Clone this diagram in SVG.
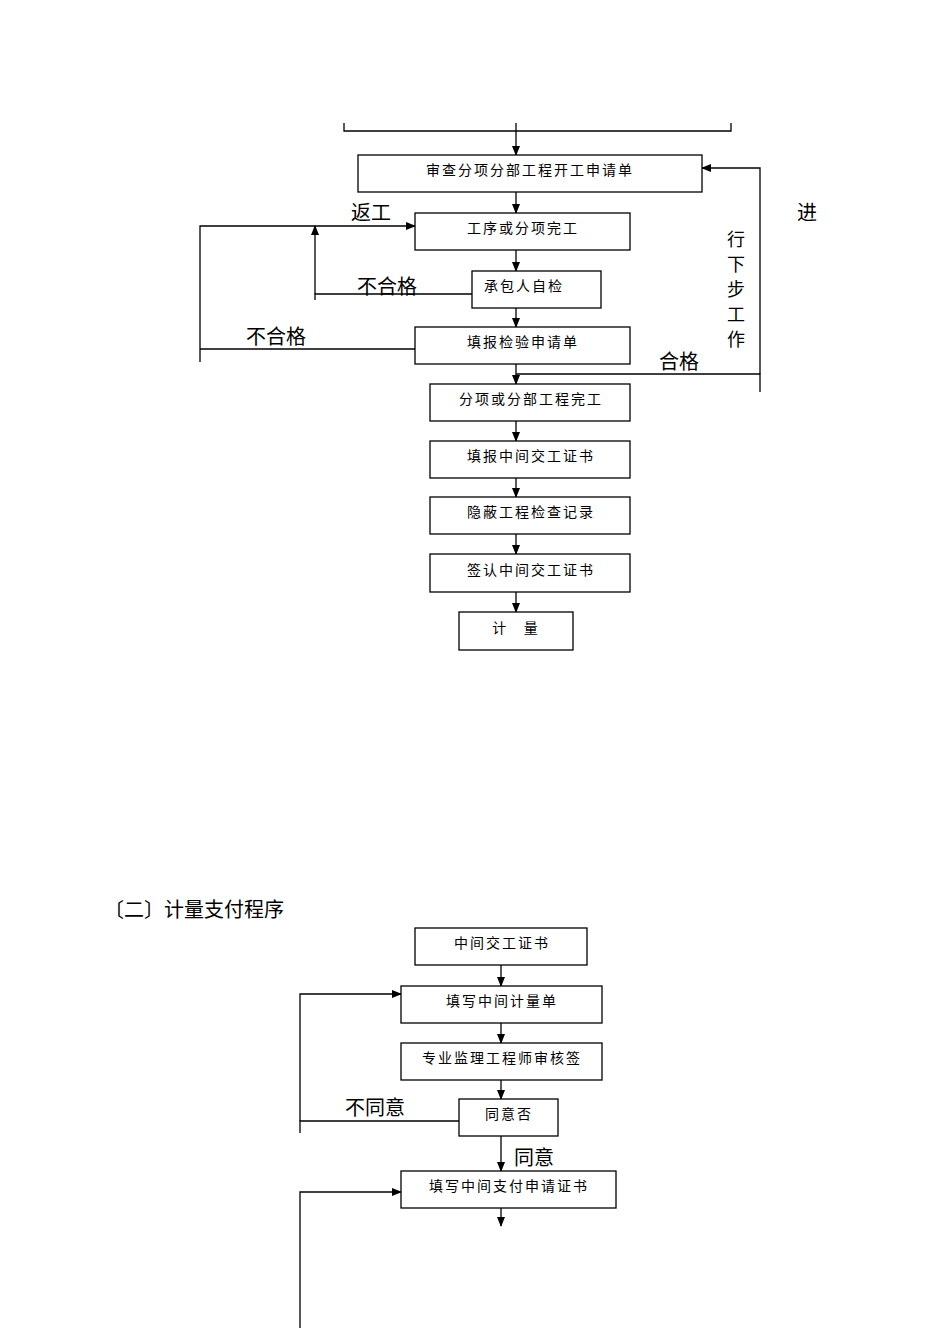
<svg xmlns="http://www.w3.org/2000/svg" width="950" height="1344" viewBox="0 0 950 1344">
<defs><marker id="a" markerWidth="10" markerHeight="10" refX="9" refY="5" orient="auto" markerUnits="userSpaceOnUse"><path d="M0,1 L10,5 L0,9 z" fill="#000"/></marker></defs>
<style>
rect{fill:#fff;stroke:#000;stroke-width:1.3}
line,polyline{stroke:#000;stroke-width:1.3;fill:none}
.t{font-family:"Noto Sans CJK SC",sans-serif;font-size:14px;text-anchor:middle;letter-spacing:2px}
.l{font-family:"Noto Sans CJK SC",sans-serif;font-size:20px}
.v{font-family:"Noto Sans CJK SC",sans-serif;font-size:18px}
</style>
<rect width="950" height="1344" style="fill:#fff;stroke:none"/>
<g id="connectors">
<polyline points="344,123 344,131 731,131 731,123"/>
<line x1="516" y1="123" x2="516" y2="155" marker-end="url(#a)"/>
<line x1="516" y1="192" x2="516" y2="213" marker-end="url(#a)"/>
<line x1="516" y1="250" x2="516" y2="271" marker-end="url(#a)"/>
<line x1="516" y1="308" x2="516" y2="327" marker-end="url(#a)"/>
<line x1="516" y1="364" x2="516" y2="384" marker-end="url(#a)"/>
<line x1="516" y1="421" x2="516" y2="441" marker-end="url(#a)"/>
<line x1="516" y1="478" x2="516" y2="497" marker-end="url(#a)"/>
<line x1="516" y1="534" x2="516" y2="554" marker-end="url(#a)"/>
<line x1="516" y1="592" x2="516" y2="612" marker-end="url(#a)"/>
<polyline points="200,362 200,226 415,226" marker-end="url(#a)"/>
<polyline points="472,294 315,294 315,300"/>
<line x1="315" y1="294" x2="315" y2="226" marker-end="url(#a)"/>
<line x1="415" y1="349" x2="200" y2="349"/>
<polyline points="516,374 760,374 760,392"/>
<polyline points="760,374 760,168 702,168" marker-end="url(#a)"/>
<line x1="501" y1="965" x2="501" y2="986" marker-end="url(#a)"/>
<line x1="501" y1="1023" x2="501" y2="1043" marker-end="url(#a)"/>
<line x1="501" y1="1080" x2="501" y2="1099" marker-end="url(#a)"/>
<line x1="501" y1="1136" x2="501" y2="1171" marker-end="url(#a)"/>
<line x1="501" y1="1208" x2="501" y2="1226" marker-end="url(#a)"/>
<polyline points="459,1121 300,1121 300,1133"/>
<polyline points="300,1121 300,994 401,994" marker-end="url(#a)"/>
<polyline points="300,1328 300,1192 401,1192" marker-end="url(#a)"/>
</g>
<g id="n1"><rect x="358" y="155" width="344" height="37"/><text class="t" x="530" y="175">审查分项分部工程开工申请单</text></g>
<g id="n2"><rect x="415" y="213" width="215" height="37"/><text class="t" x="523" y="233">工序或分项完工</text></g>
<g id="n3"><rect x="472" y="271" width="129" height="37"/><text class="t" x="524" y="291">承包人自检</text></g>
<g id="n4"><rect x="415" y="327" width="215" height="37"/><text class="t" x="523" y="347">填报检验申请单</text></g>
<g id="n5"><rect x="430" y="384" width="200" height="37"/><text class="t" x="531" y="404">分项或分部工程完工</text></g>
<g id="n6"><rect x="430" y="441" width="200" height="37"/><text class="t" x="531" y="461">填报中间交工证书</text></g>
<g id="n7"><rect x="430" y="497" width="200" height="37"/><text class="t" x="531" y="517">隐蔽工程检查记录</text></g>
<g id="n8"><rect x="430" y="554" width="200" height="38"/><text class="t" x="531" y="575">签认中间交工证书</text></g>
<g id="n9"><rect x="459" y="612" width="114" height="38"/><text class="t" x="516" y="633" xml:space="preserve">计   量</text></g>
<g id="labels1">
<text class="l" x="351" y="220">返工</text>
<text class="l" x="357" y="294">不合格</text>
<text class="l" x="246" y="344">不合格</text>
<text class="l" x="659" y="369">合格</text>
<text class="l" x="797" y="220">进</text>
<text class="v" x="727" y="246">行</text>
<text class="v" x="727" y="271">下</text>
<text class="v" x="727" y="296">步</text>
<text class="v" x="727" y="321">工</text>
<text class="v" x="727" y="346">作</text>
<text class="l" x="104" y="917">〔二〕计量支付程序</text>
<text class="l" x="345" y="1115">不同意</text>
<text class="l" x="514" y="1165">同意</text>
</g>
<g id="m1"><rect x="415" y="928" width="172" height="37"/><text class="t" x="502" y="948">中间交工证书</text></g>
<g id="m2"><rect x="401" y="986" width="201" height="37"/><text class="t" x="502" y="1006">填写中间计量单</text></g>
<g id="m3"><rect x="401" y="1043" width="201" height="37"/><text class="t" x="502" y="1063">专业监理工程师审核签</text></g>
<g id="m4"><rect x="459" y="1099" width="99" height="37"/><text class="t" x="509" y="1119">同意否</text></g>
<g id="m5"><rect x="401" y="1171" width="215" height="37"/><text class="t" x="509" y="1191">填写中间支付申请证书</text></g>
</svg>
